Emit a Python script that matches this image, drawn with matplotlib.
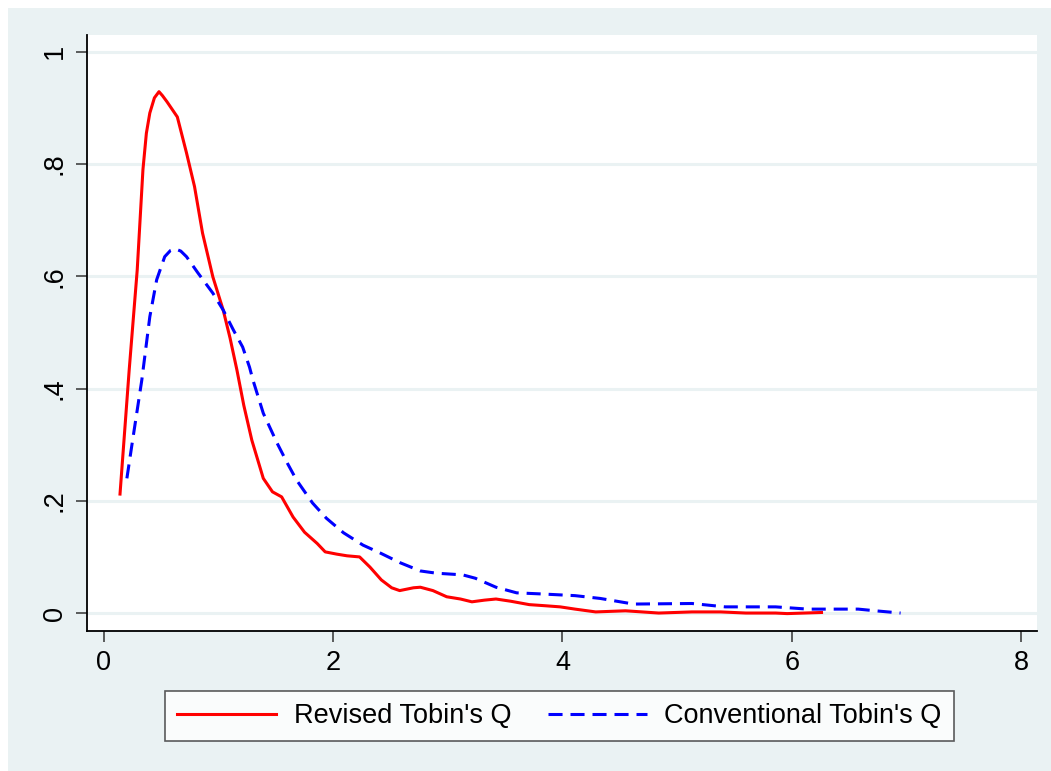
import matplotlib
matplotlib.use("Agg")
import matplotlib.pyplot as plt
from matplotlib.patches import Rectangle

# ---- data ----
revised_x = [0.14, 0.22, 0.29, 0.34, 0.37, 0.40, 0.44, 0.48, 0.51, 0.55, 0.64, 0.72, 0.79, 0.86, 0.95,
             1.04, 1.10, 1.16, 1.22, 1.29, 1.39, 1.47, 1.55, 1.65, 1.75, 1.86, 1.93, 2.03,
             2.12, 2.23, 2.32, 2.42, 2.51, 2.58, 2.70, 2.76, 2.87, 2.99, 3.11, 3.21,
             3.32, 3.42, 3.55, 3.71, 3.85, 3.98, 4.11, 4.29, 4.55, 4.84, 5.13, 5.38,
             5.60, 5.86, 5.96, 6.11, 6.26]
revised_y = [0.212, 0.433, 0.611, 0.79, 0.855, 0.891, 0.918, 0.929, 0.922, 0.911, 0.884, 0.82, 0.76, 0.677, 0.599,
             0.54, 0.49, 0.433, 0.37, 0.308, 0.24, 0.216, 0.207, 0.171, 0.144, 0.124, 0.109, 0.105,
             0.102, 0.100, 0.082, 0.059, 0.045, 0.040, 0.045, 0.046, 0.040, 0.029, 0.025, 0.020,
             0.023, 0.025, 0.021, 0.015, 0.013, 0.011, 0.007, 0.002, 0.004, 0.000, 0.002, 0.002,
             0.000, 0.000, -0.001, 0.000, 0.001]

conv_x = [0.20, 0.25, 0.33, 0.40, 0.46, 0.53, 0.58, 0.62, 0.67, 0.72, 0.82, 0.95, 1.04, 1.13,
          1.21, 1.27, 1.30, 1.39, 1.51, 1.60, 1.68, 1.82, 1.94, 2.09, 2.26, 2.41,
          2.58, 2.76, 2.90, 3.13, 3.24, 3.42, 3.60, 3.82, 4.11, 4.33, 4.62, 5.13,
          5.42, 5.86, 6.14, 6.58, 6.73, 6.95]
conv_y = [0.24, 0.308, 0.415, 0.528, 0.594, 0.635, 0.646, 0.649, 0.645, 0.635, 0.606, 0.57, 0.54, 0.504,
          0.474, 0.438, 0.415, 0.356, 0.303, 0.267, 0.237, 0.196, 0.169, 0.143, 0.121, 0.107,
          0.090, 0.075, 0.071, 0.068, 0.062, 0.046, 0.036, 0.034, 0.031, 0.026, 0.016, 0.017,
          0.011, 0.011, 0.007, 0.007, 0.004, 0.000]

series_labels = ["Revised Tobin's Q", "Conventional Tobin's Q"]
x_ticks = [0, 2, 4, 6, 8]
x_tick_labels = ["0", "2", "4", "6", "8"]
y_ticks = [0, 0.2, 0.4, 0.6, 0.8, 1.0]
y_tick_labels = ["0", ".2", ".4", ".6", ".8", "1"]

# ---- style ----
BG = "#EAF2F3"
plt.rcParams['font.family'] = ['Liberation Sans', 'DejaVu Sans']
FS = 19.5

W, H = 1051, 771
fig = plt.figure(figsize=(W / 100, H / 100), dpi=100, facecolor="white")
fig.patches.append(Rectangle((8 / W, 0), 1 - 8 / W, 1 - 8 / H, transform=fig.transFigure,
                             facecolor=BG, edgecolor="none", zorder=-10))

ax = fig.add_axes([87 / W, 1 - 631 / H, (1037 - 87) / W, (631 - 35) / H])
ax.set_facecolor("white")

ax.plot(revised_x, revised_y, color="#FF0000", lw=2.2, solid_joinstyle="round",
        label=series_labels[0], zorder=3)
ax.plot(conv_x, conv_y, color="#0000FF", lw=2.2, dashes=(4.6, 2.6),
        label=series_labels[1], zorder=3)

ax.set_xlim(-0.148, 8.14)
ax.set_ylim(-0.032, 1.030)

ax.set_xticks(x_ticks)
ax.set_xticklabels(x_tick_labels, fontsize=FS)
ax.set_yticks(y_ticks)
ax.set_yticklabels(y_tick_labels, fontsize=FS, rotation=90, va="center")

ax.grid(axis="y", color=BG, lw=2.2, zorder=1)
ax.grid(axis="x", visible=False)
ax.set_axisbelow(True)

for s in ["top", "right"]:
    ax.spines[s].set_visible(False)
for s in ["left", "bottom"]:
    ax.spines[s].set_linewidth(1.3)
    ax.spines[s].set_color("black")
ax.tick_params(axis="both", length=8, width=1.1, color="#333333", pad=6, labelcolor="black")

leg = fig.legend(loc="center", bbox_to_anchor=(559.5 / W, 1 - 716 / H), ncol=2,
                 fontsize=FS, frameon=True, fancybox=False, edgecolor="#333333",
                 handlelength=3.65, handletextpad=0.65, columnspacing=1.35,
                 borderpad=0.45, borderaxespad=0)
leg.get_frame().set_linewidth(1.2)
leg.get_frame().set_facecolor("white")

fig.savefig("out.png", dpi=100, facecolor=fig.get_facecolor())
